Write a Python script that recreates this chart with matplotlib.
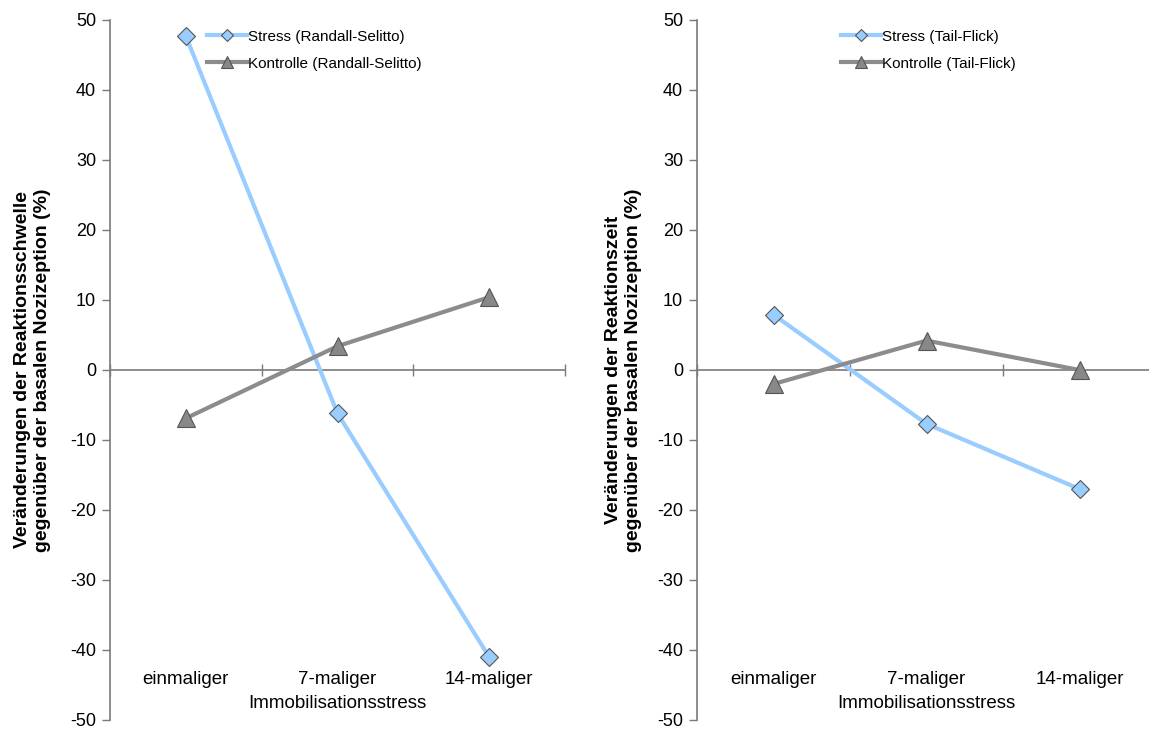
import matplotlib
matplotlib.use("Agg")
import matplotlib.pyplot as plt

# --- Daten ---
kategorien = ["einmaliger", "7-maliger", "14-maliger"]
stress_rs = [47.7, -6.2, -41.0]
kontrolle_rs = [-6.9, 3.4, 10.4]
stress_tf = [7.9, -7.7, -17.0]
kontrolle_tf = [-2.0, 4.2, 0.0]

plt.rcParams['font.family'] = ['Liberation Sans', 'DejaVu Sans']
plt.rcParams['axes.unicode_minus'] = False

BLAU = '#99CCFF'
GRAU = '#8C8C8C'
ACHSE = '#7a7a7a'

fig = plt.figure(figsize=(11.49, 7.29), dpi=100)
ax_l = fig.add_axes([110 / 1149, 9 / 729, 455 / 1149, 700 / 729])
ax_r = fig.add_axes([697 / 1149, 9 / 729, 459 / 1149, 700 / 729])


def zeichne_panel(ax, stress, kontrolle, label_s, label_k, ylabel, leg_anchor, pad):
    x = list(range(len(kategorien)))
    ax.plot(x, stress, '-', color=BLAU, lw=3, marker='D', ms=9,
            mfc=BLAU, mec='#555555', mew=0.8, label=label_s, zorder=3)
    ax.plot(x, kontrolle, '-', color=GRAU, lw=3, marker='^', ms=13,
            mfc='#888888', mec='#555555', mew=0.8, label=label_k, zorder=3)

    ax.set_xlim(-0.5, 2.5)
    ax.set_ylim(-50, 50)
    ax.set_yticks(range(-50, 51, 10))

    for s in ['top', 'right']:
        ax.spines[s].set_visible(False)
    ax.spines['bottom'].set_position(('data', 0))
    ax.spines['bottom'].set_color(ACHSE)
    ax.spines['left'].set_color(ACHSE)
    ax.spines['bottom'].set_linewidth(1.2)
    ax.spines['left'].set_linewidth(1.2)

    ax.set_xticks([-0.5, 0.5, 1.5, 2.5])
    ax.set_xticklabels([])
    ax.tick_params(axis='x', direction='inout', length=8, color=ACHSE, width=1)
    ax.tick_params(axis='y', direction='out', length=6, color=ACHSE, width=1,
                   labelsize=13, pad=4)

    # Kategorienbeschriftung unten (wie Excel)
    for i, k in enumerate(kategorien):
        ax.text(i, -44.2, k, ha='center', va='center', fontsize=13.5)
    ax.text(1, -47.7, "Immobilisationsstress", ha='center', va='center', fontsize=13.5)

    ax.set_ylabel(ylabel, fontsize=14, fontweight='bold', linespacing=1.2,
                  labelpad=pad)

    ax.legend(loc='upper left', bbox_to_anchor=leg_anchor, frameon=False,
              fontsize=11, handlelength=2.6, handletextpad=0.1,
              labelspacing=0.85, borderaxespad=0, markerscale=0.65)


zeichne_panel(ax_l, stress_rs, kontrolle_rs,
              "Stress (Randall-Selitto)", "Kontrolle (Randall-Selitto)",
              "Veränderungen der Reaktionsschwelle\ngegenüber der basalen Nozizeption (%)",
              (0.2, 0.995), 14)
zeichne_panel(ax_r, stress_tf, kontrolle_tf,
              "Stress (Tail-Flick)", "Kontrolle (Tail-Flick)",
              "Veränderungen der Reaktionszeit\ngegenüber der basalen Nozizeption (%)",
              (0.3, 0.995), 11)

fig.savefig("out.png", dpi=100)
